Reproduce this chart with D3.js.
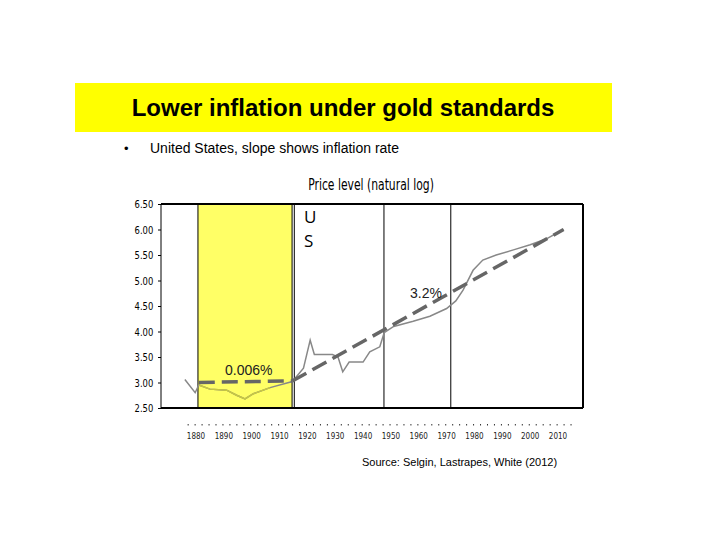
<!DOCTYPE html>
<html><head><meta charset="utf-8">
<script src="https://cdn.jsdelivr.net/npm/d3@7"></script>
<style>body{margin:0;background:#fff}</style>
</head><body>
<svg id="c" width="720" height="540"></svg>
<script>
// price level (natural log)
var years = [1876,1879.7,1881,1885,1891,1894.6,1897.6,1900.6,1906.6,1914.6,1918.6,1921,1922.5,1929,1931,1932.7,1935,1940,1942.4,1946,1947.6,1951,1958,1964,1970,1973.3,1975.9,1979.5,1983,1987.8,1994,2000,2006,2012];
var prices = [3.06,2.80,2.95,2.87,2.85,2.75,2.68,2.78,2.90,3.02,3.28,3.83,3.55,3.55,3.5,3.21,3.4,3.4,3.6,3.7,3.98,4.1,4.2,4.3,4.45,4.6,4.81,5.2,5.4,5.5,5.6,5.7,5.82,6.0];
var trendGold = [[1881,3.0],[1914.6,3.03]];
var trendFiat = [[1914.6,3.03],[2012,6.0]];
var yTicks = [2.5,3.0,3.5,4.0,4.5,5.0,5.5,6.0,6.5];
var xTicks = [1880,1890,1900,1910,1920,1930,1940,1950,1960,1970,1980,1990,2000,2010];
var dividers = [1915.3,1947.5,1971.5];
var goldSpan = [1880.7,1914.5];

var svg = d3.select("#c");
var x = d3.scaleLinear().domain([1880,2010]).range([196,558]);
var y = d3.scaleLinear().domain([2.5,6.5]).range([408,204]);
var left = 161, right = 583;

// title box
svg.append("rect").attr("x",75).attr("y",83).attr("width",537).attr("height",49).attr("fill","#ffff00");
svg.append("text").attr("x",343).attr("y",116).attr("text-anchor","middle")
    .style("font","bold 24px Arial, 'Liberation Sans', sans-serif").text("Lower inflation under gold standards");
svg.append("text").attr("x",124).attr("y",153).style("font","13px Arial, 'Liberation Sans', sans-serif").text("•");
svg.append("text").attr("x",150).attr("y",153).style("font","14px Arial, 'Liberation Sans', sans-serif").text("United States, slope shows inflation rate");

// gold standard band
svg.append("rect").attr("x",x(goldSpan[0])).attr("y",y(6.5))
    .attr("width",x(goldSpan[1])-x(goldSpan[0])).attr("height",y(2.5)-y(6.5))
    .attr("fill","#ffff66").attr("stroke","#000").attr("stroke-width",1);

dividers.forEach(function(d){
    svg.append("line").attr("x1",x(d)).attr("x2",x(d)).attr("y1",y(6.5)).attr("y2",y(2.5))
        .attr("stroke","#000").attr("stroke-width",1);
});

// frame
svg.append("line").attr("x1",left).attr("x2",right).attr("y1",y(6.5)).attr("y2",y(6.5)).attr("stroke","#000").attr("stroke-width",2);
svg.append("line").attr("x1",left).attr("x2",right).attr("y1",y(2.5)).attr("y2",y(2.5)).attr("stroke","#000").attr("stroke-width",2);
svg.append("line").attr("x1",left).attr("x2",left).attr("y1",y(6.5)).attr("y2",y(2.5)).attr("stroke","#000").attr("stroke-width",1);
svg.append("line").attr("x1",right).attr("x2",right).attr("y1",y(6.5)).attr("y2",y(2.5)).attr("stroke","#000").attr("stroke-width",2);

// y axis
var yAxis = d3.axisLeft(y).tickValues(yTicks).tickFormat(d3.format(".2f")).tickSize(3);
var gy = svg.append("g").attr("transform","translate("+left+",0)").call(yAxis);
gy.select(".domain").remove();
gy.selectAll("text").style("font","11px 'DejaVu Sans Condensed', 'Liberation Sans Narrow', sans-serif")
    .attr("transform","scale(0.85,1)").attr("dx","-2");
gy.selectAll("text").each(function(){ var t=d3.select(this); t.attr("x",(+t.attr("x")||-6)/0.85); });

// x axis labels and dotted ticks
var minor = d3.range(1877,2017,2.5);
svg.selectAll(".dot").data(minor).enter().append("rect")
    .attr("x",function(d){return x(d);}).attr("y",424).attr("width",1).attr("height",1.5).attr("fill","#333");
svg.selectAll(".xl").data(xTicks).enter().append("text")
    .attr("x",function(d){return x(d);}).attr("y",439).attr("text-anchor","middle")
    .style("font","8px 'DejaVu Sans Condensed', sans-serif").attr("fill","#222").text(function(d){return d;});

// price line
var line = d3.line().x(function(d){return x(d[0]);}).y(function(d){return y(d[1]);});
var pts = years.map(function(d,i){return [d,prices[i]];});
svg.append("path").datum(pts).attr("d",line).attr("fill","none").attr("stroke","#888").attr("stroke-width",1.5);
svg.append("path").datum(pts.filter(function(d){return d[0]>=goldSpan[0] && d[0]<=goldSpan[1];}))
    .attr("d",line).attr("fill","none").attr("stroke","#c8c840").attr("stroke-width",1.5);

// trend lines
[trendGold,trendFiat].forEach(function(t){
    svg.append("path").datum(t).attr("d",line).attr("fill","none").attr("stroke","#666")
        .attr("stroke-width",3.5).attr("stroke-dasharray","16,7");
});

// annotations
var af = "14px Arial, 'Liberation Sans', sans-serif";
svg.append("text").attr("x",225).attr("y",375).style("font",af).attr("fill","#222").text("0.006%");
svg.append("text").attr("x",410).attr("y",298).style("font",af).attr("fill","#222").text("3.2%");
svg.append("text").attr("x",304).attr("y",223).style("font","17px 'Open Sans', sans-serif").text("U");
svg.append("text").attr("x",304).attr("y",247).style("font","17px 'Open Sans', sans-serif").text("S");
svg.append("text").attr("x",371).attr("y",190).attr("text-anchor","middle")
    .style("font","15px 'DejaVu Sans Condensed', sans-serif").attr("transform","translate(371,0) scale(0.8,1) translate(-371,0)")
    .attr("x",371/0.8*0+371).text("Price level (natural log)");
svg.append("text").attr("x",362).attr("y",466).style("font","11px Arial, 'Liberation Sans', sans-serif").text("Source:  Selgin, Lastrapes, White (2012)");
</script>
</body></html>
